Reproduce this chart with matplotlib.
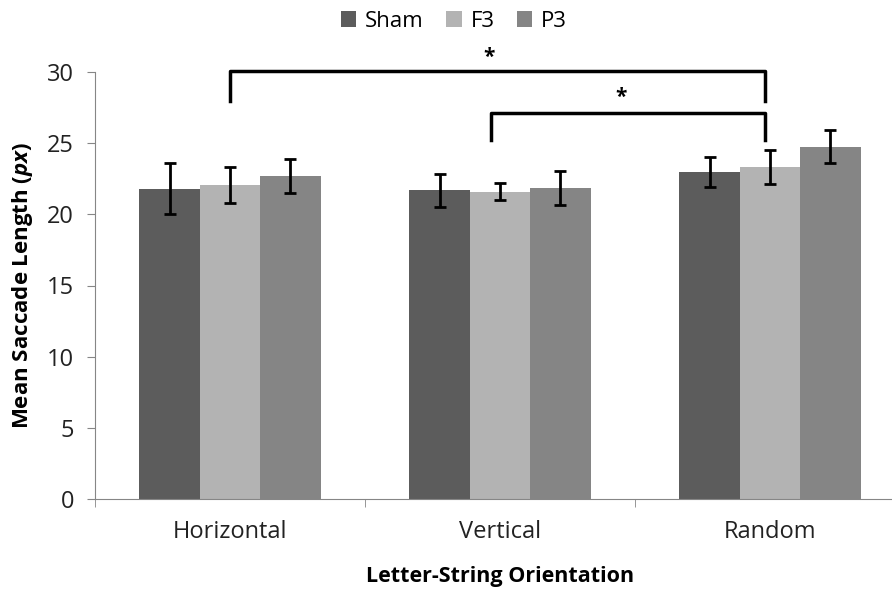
import numpy as np
import matplotlib
matplotlib.use("Agg")
import matplotlib.pyplot as plt

categories = ["Horizontal", "Vertical", "Random"]
series = ["Sham", "F3", "P3"]
sham = [21.8, 21.7, 23.0]
f3 = [22.05, 21.6, 23.3]
p3 = [22.7, 21.85, 24.75]
sham_err = [1.8, 1.15, 1.05]
f3_err = [1.25, 0.6, 1.2]
p3_err = [1.2, 1.2, 1.15]
colors = ["#5c5c5c", "#b3b3b3", "#858585"]

plt.rcParams["font.family"] = ["Open Sans", "DejaVu Sans"]
plt.rcParams["mathtext.fontset"] = "custom"
plt.rcParams["mathtext.bfit"] = "Open Sans:italic:bold"

fig = plt.figure(figsize=(8.92, 5.9), dpi=100)
ax = fig.add_axes([95 / 892, 91 / 590, 810 / 892, 427 / 590])

x = np.arange(len(categories))
w = 0.224
for i, (vals, errs) in enumerate([(sham, sham_err), (f3, f3_err), (p3, p3_err)]):
    ax.bar(x + (i - 1) * w, vals, w, color=colors[i], label=series[i],
           yerr=errs, error_kw=dict(ecolor="black", elinewidth=2, capsize=4.5, capthick=2))

ax.set_ylim(0, 30)
ax.set_xlim(-0.5, 2.5)
ax.set_yticks(range(0, 31, 5))
ax.set_xticks(x)
ax.set_xticklabels(categories)
ax.set_xticks([-0.5, 0.5, 1.5, 2.5], minor=True)
ax.tick_params(axis="x", which="major", length=0, pad=15, labelsize=17, labelcolor="#222222")
ax.tick_params(axis="x", which="minor", length=6, direction="out", color="#868686")
ax.tick_params(axis="y", length=6, direction="out", color="#868686", labelsize=17, pad=9,
               labelcolor="#222222")
for s in ["top", "right"]:
    ax.spines[s].set_visible(False)
for s in ["left", "bottom"]:
    ax.spines[s].set_color("#868686")

ax.set_ylabel(r"Mean Saccade Length ($\mathbfit{px}$)", fontsize=16, fontweight="bold", labelpad=9)
ax.set_xlabel("Letter-String Orientation", fontsize=15.5, fontweight="bold", labelpad=16)

# significance brackets
ax.plot([0.0, 0.0, 1.98, 1.98], [27.95, 30.05, 30.05, 27.95], color="black", lw=2.5, clip_on=False)
ax.plot([0.965, 0.965, 1.98, 1.98], [25.2, 27.15, 27.15, 25.2], color="black", lw=2.5, clip_on=False)
ax.text(0.96, 30.3, "*", ha="center", va="bottom", fontsize=15, fontweight="bold")
ax.text(1.45, 27.45, "*", ha="center", va="bottom", fontsize=15, fontweight="bold")

fig.legend(loc="upper center", bbox_to_anchor=(454 / 892, 1.016), ncol=3, frameon=False,
           fontsize=16, handlelength=0.7, handleheight=0.7, handletextpad=0.4, columnspacing=1.0)

fig.savefig("out.png", dpi=100)
